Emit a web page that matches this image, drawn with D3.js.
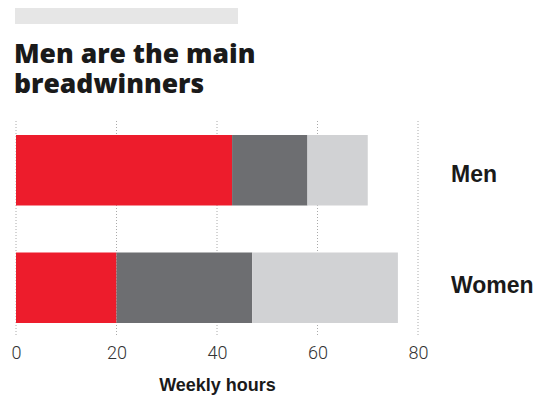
<!DOCTYPE html>
<html><head><meta charset="utf-8">
<script src="https://cdn.jsdelivr.net/npm/d3@7"></script>
<style>body{margin:0;background:#fff}</style>
</head><body>
<svg id="c" width="544" height="396"></svg>
<script>
const categories = ["Men", "Women"];
const seriesNames = ["Paid work", "Unpaid work", "Other"];
const paidWork = [43, 20];
const unpaidWork = [15, 27];
const other = [12, 29];
const xTicks = [0, 20, 40, 60, 80];
const colors = ["#ed1c2c", "#6d6e71", "#d1d2d4"];

const svg = d3.select("#c");
const x = d3.scaleLinear().domain([0, 80]).range([16, 418]);
const y = d3.scaleBand().domain(categories).range([135, 323]).paddingInner(0.4).paddingOuter(0);
const yLabel = d3.scalePoint().domain(categories).range([182, 293]);

svg.append("rect").attr("x", 15).attr("y", 8).attr("width", 223).attr("height", 16).attr("fill", "#e6e6e6");

const title = svg.append("text").attr("font-family", "Open Sans, sans-serif")
  .attr("font-weight", 800).attr("font-size", 26.5).attr("fill", "#1a1a1a");
title.append("tspan").attr("x", 14).attr("y", 63).text("Men are the main");
title.append("tspan").attr("x", 14).attr("y", 93).text("breadwinners");

// grid
svg.append("g").selectAll("line").data(xTicks).join("line")
  .attr("x1", d => x(d)).attr("x2", d => x(d)).attr("y1", 121).attr("y2", 336)
  .attr("stroke", "#aaa").attr("stroke-width", 1).attr("stroke-dasharray", "1,2");

const data = categories.map((c, i) => ({cat: c, v: [paidWork[i], unpaidWork[i], other[i]]}));
const stack = d3.stack().keys([0, 1, 2]).value((d, k) => d.v[k]);
const stacked = stack(data);

svg.append("g").selectAll("g").data(stacked).join("g").attr("fill", (d, i) => colors[i])
  .selectAll("rect").data(d => d).join("rect")
  .attr("x", d => x(d[0])).attr("width", d => x(d[1]) - x(d[0]))
  .attr("y", d => y(d.data.cat)).attr("height", y.bandwidth());

svg.append("g").selectAll("text").data(categories).join("text")
  .attr("x", 451).attr("y", d => yLabel(d))
  .attr("font-family", "Liberation Sans, Arial, sans-serif").attr("font-weight", 700)
  .attr("font-size", 23).attr("fill", "#1a1a1a").text(d => d);

const axis = d3.axisBottom(x).tickValues(xTicks).tickSize(0).tickPadding(0);
const ag = svg.append("g").attr("transform", "translate(0,359)").call(axis);
ag.select(".domain").remove();
ag.selectAll("text").attr("font-family", "Roboto, sans-serif").attr("font-weight", 300)
  .attr("font-size", 18).attr("fill", "#333").attr("dy", 0);

svg.append("text").attr("x", 217.5).attr("y", 391).attr("text-anchor", "middle")
  .attr("font-family", "Liberation Sans, Arial, sans-serif").attr("font-weight", 700)
  .attr("font-size", 18).attr("fill", "#1a1a1a").text("Weekly hours");
</script>
</body></html>
